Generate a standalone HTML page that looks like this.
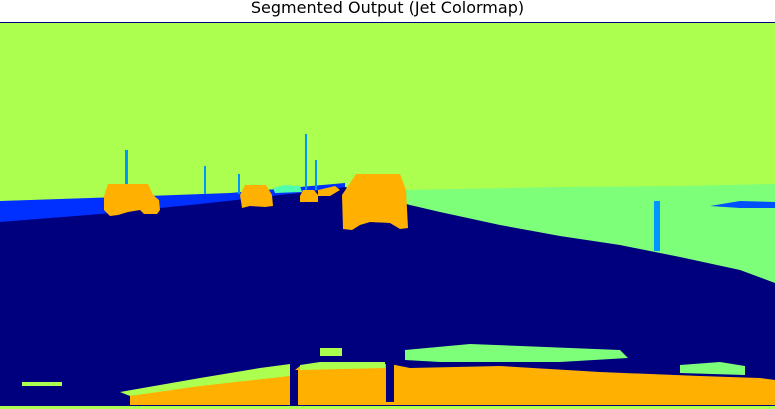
<!DOCTYPE html>
<html><head><meta charset="utf-8"><style>
html,body{margin:0;padding:0;background:#fff;width:775px;height:409px;overflow:hidden}
#title{position:absolute;left:0;top:-2px;width:775px;text-align:center;font:16px "DejaVu Sans","Liberation Sans",sans-serif;color:#000}
svg{position:absolute;left:0;top:0}
</style></head><body>
<div id="title">Segmented Output (Jet Colormap)</div>
<svg width="775" height="409">
<rect x="0" y="22" width="775" height="1" fill="#00007f"/>
<rect x="0" y="23" width="775" height="386" fill="#adff4f"/>
<polygon fill="#7dff7a" points="405,190 560,187 680,186 775,184 775,409 405,409"/>
<polygon fill="#0030ff" points="0,201 120,197 230,193 300,187 345,183 345,230 0,230"/>
<polygon fill="#00007f" points="0,222 100,214 200,204 280,195 330,190 345,187 410,205 440,212 500,225 560,236 620,245 680,257 740,270 775,283 775,409 0,409"/>
<rect x="654" y="201" width="6" height="50" fill="#0096ff"/>
<polygon fill="#0050ff" points="710,206 740,201 775,202 775,208 740,208"/>
<rect x="125" y="150" width="3" height="36" fill="#0096ff"/>
<rect x="204" y="166" width="2" height="28" fill="#0096ff"/>
<rect x="238" y="174" width="2" height="20" fill="#0096ff"/>
<rect x="305" y="134" width="2" height="56" fill="#0096ff"/>
<rect x="315" y="160" width="2" height="30" fill="#0096ff"/>
<polygon fill="#4fffad" points="273,188 285,185 300,186 302,192 275,193"/>
<path fill="#ffb000" d="M108,184 H148 L153,195 L159,200 L160,210 L157,214 H144 L140,210 L128,212 L118,215 L110,216 L104,210 L104,196 Z"/>
<path fill="#ffb000" d="M245,185 H266 L272,195 L273,206 L265,207 L250,206 L242,208 L240,195 Z"/>
<path fill="#ffb000" d="M303,190 H314 L318,195 L318,202 L300,202 L300,196 Z M318,190 L335,186 L340,190 L330,196 L318,196 Z"/>
<path fill="#ffb000" d="M356,174 H400 L406,190 L408,228 L400,229 L390,223 L370,222 L360,225 L352,230 L343,229 L342,195 Z"/>
<polygon fill="#ffb000" points="130,405 130,396 190,386 260,378 290,374 300,366 390,364 410,368 500,366 600,372 700,376 760,378 775,380 775,405"/>
<polygon fill="#adff4f" points="120,392 200,378 260,368 290,364 290,376 200,386 130,396"/>
<polygon fill="#7dff7a" points="405,350 470,344 620,350 628,358 560,362 440,362 405,360"/>
<polygon fill="#adff4f" points="300,365 320,362 385,362 385,368 300,370"/>
<polygon fill="#7dff7a" points="680,365 720,362 745,366 745,375 680,373"/>
<rect x="320" y="348" width="22" height="8" fill="#adff4f"/>
<rect x="290" y="370" width="8" height="39" fill="#00007f"/>
<rect x="386" y="362" width="8" height="40" fill="#00007f"/>
<rect x="22" y="382" width="40" height="4" fill="#adff4f"/>
<rect x="0" y="406" width="775" height="3" fill="#adff4f"/>
</svg>
</body></html>
